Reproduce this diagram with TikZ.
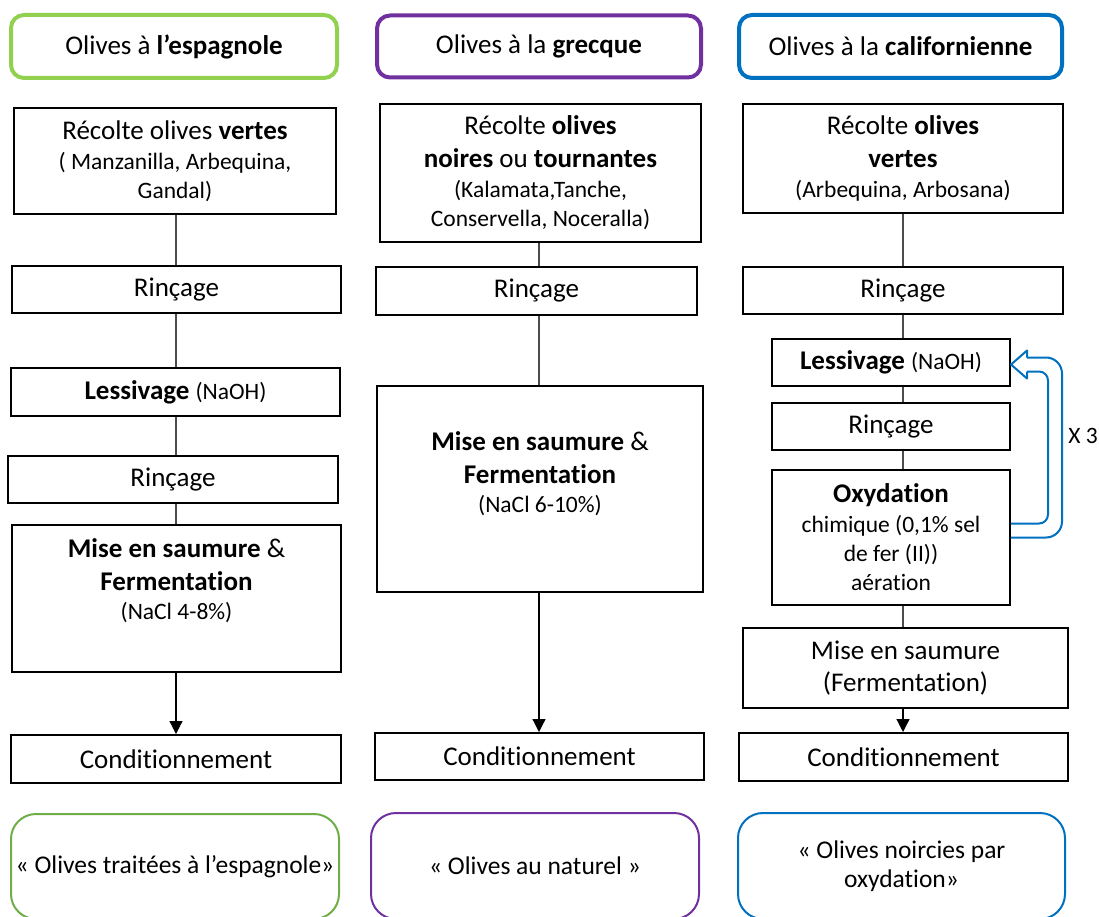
\documentclass[tikz,border=0pt]{standalone}
\usepackage{fontspec}
\setmainfont{Carlito}[Ligatures=NoCommon]
\usepackage{xcolor}
\usetikzlibrary{arrows.meta}
\usetikzlibrary{calc}
\usetikzlibrary{positioning}
\definecolor{espgreen}{HTML}{92D050}
\definecolor{espgreend}{HTML}{70AD47}
\definecolor{grpurple}{HTML}{7030A0}
\definecolor{calblue}{HTML}{0070C0}
\colorlet{linkgray}{black!70}
\newcommand\bigtxt{\fontsize{27}{33}\selectfont}
\newcommand\smtxt{\fontsize{23.5}{29}\selectfont}
\newcommand\fintxt{\fontsize{25.5}{30}\selectfont}
\tikzstyle{stepbox}=[draw,line width=2pt,inner sep=0pt,align=center,font=\bigtxt]
\tikzstyle{headbox}=[draw,line width=4pt,rounded corners=13pt,inner sep=0pt,align=center,font=\bigtxt]
\tikzstyle{endbox}=[draw,line width=2pt,rounded corners=25pt,inner sep=0pt,align=center,font=\fintxt]
\tikzstyle{txt}=[inner sep=0pt,align=center,font=\bigtxt]
\tikzstyle{link}=[line width=1.2pt,linkgray]
\tikzstyle{flow}=[line width=1.2pt,-{Triangle[length=13pt,width=13pt]}]
\tikzstyle{uturn}=[line width=2pt,calblue,line join=round]

\begin{document}
\begin{tikzpicture}[x=1pt,y=-1pt]
  \clip (0,0) rectangle (1099,917);
  \coordinate (ax1) at (176,0);
  \coordinate (ax2) at (539,0);
  \coordinate (ax3) at (903,0);

  % headers
  \node[headbox,espgreen,text=black,minimum width=326pt,minimum height=63pt] (h1) at (174,46.5) {Olives à \textbf{l’espagnole}};
  \node[headbox,grpurple,text=black,minimum width=324pt,minimum height=62pt] (h2) at (539,46.5) {Olives à la \textbf{grecque}};
  \node[headbox,calblue,text=black,minimum width=323pt,minimum height=63pt] (h3) at (900.5,46.5) {Olives à la \textbf{californienne}};

  % olives a l'espagnole
  \node[stepbox,minimum width=322pt,minimum height=106pt] (r1) at (175,161)
    {Récolte olives \textbf{vertes}\\[-3pt]{\smtxt ( Manzanilla, Arbequina,}\\[-4pt]{\smtxt Gandal)}};
  \node[stepbox,minimum width=329pt,minimum height=47pt] (rin1) at (176.5,289.5) {Rinçage};
  \node[stepbox,minimum width=329pt,minimum height=48pt] (les1) at (175.5,392) {\textbf{Lessivage} {\smtxt (NaOH)}};
  \node[stepbox,minimum width=330pt,minimum height=47pt] (rin1b) at (173,479.5) {Rinçage};
  \node[stepbox,minimum width=329pt,minimum height=147pt] (mise1) at (176.5,598.5) {};
  \node[txt,below=14pt of mise1.north] (mise1t)
    {\textbf{Mise en saumure} \&\\\textbf{Fermentation}\\[-4pt]{\smtxt (NaCl 4-8\%)}};
  \node[stepbox,minimum width=330pt,minimum height=48pt] (cond1) at (176,759) {Conditionnement};
  \node[endbox,espgreend,text=black,minimum width=328pt,minimum height=105pt] (fin1) at (175,866.5) {« Olives traitées à l’espagnole»};

  % olives a la grecque
  \node[stepbox,minimum width=321pt,minimum height=138pt] (r2) at (540.5,173)
    {Récolte \textbf{olives}\\\textbf{noires} ou \textbf{tournantes}\\[-3pt]{\smtxt (Kalamata,Tanche,}\\[-4pt]{\smtxt Conservella, Noceralla)}};
  \node[stepbox,minimum width=321pt,minimum height=48pt] (rin2) at (536.5,291) {Rinçage};
  \node[stepbox,minimum width=326pt,minimum height=206pt] (mise2) at (540,489) {};
  \node[txt,below=46pt of mise2.north] (mise2t)
    {\textbf{Mise en saumure} \&\\\textbf{Fermentation}\\[-4pt]{\smtxt (NaCl 6-10\%)}};
  \node[stepbox,minimum width=329pt,minimum height=47pt] (cond2) at (539.5,756.5) {Conditionnement};
  \node[endbox,grpurple,text=black,minimum width=328pt,minimum height=106pt] (fin2) at (535,866) {« Olives au naturel »};

  % olives a la californienne
  \node[stepbox,minimum width=320pt,minimum height=109pt] (r3) at (903,158.5)
    {Récolte \textbf{olives}\\\textbf{vertes}\\[-3pt]{\smtxt (Arbequina, Arbosana)}};
  \node[stepbox,minimum width=320pt,minimum height=47pt] (rin3) at (903,290.5) {Rinçage};
  \node[stepbox,minimum width=238pt,minimum height=47pt] (les3) at (891,362.5) {\textbf{Lessivage} {\smtxt (NaOH)}};
  \node[stepbox,minimum width=238pt,minimum height=47pt] (rin3b) at (891,426.5) {Rinçage};
  \node[stepbox,minimum width=238pt,minimum height=135pt] (oxy) at (891,537.5)
    {\textbf{Oxydation}\\[-3pt]{\smtxt chimique (0,1\% sel}\\[-4pt]{\smtxt de fer (II))}\\[-4pt]{\smtxt aération}};
  \node[stepbox,minimum width=325pt,minimum height=80pt] (mise3) at (905.5,668) {Mise en saumure\\[-1pt](Fermentation)};
  \node[stepbox,minimum width=329pt,minimum height=48pt] (cond3) at (903.5,757) {Conditionnement};
  \node[endbox,calblue,text=black,minimum width=327pt,minimum height=106pt] (fin3) at (901.5,866) {« Olives noircies par\\[-1pt]oxydation»};
  \node[txt,font=\smtxt] (times) at (1083,436) {X 3};

  \foreach \a/\b in {r1/rin1,rin1/les1,les1/rin1b,rin1b/mise1}
    \draw[link] (\a.south -| ax1) -- (\b.north -| ax1);
  \foreach \a/\b in {r2/rin2,rin2/mise2}
    \draw[link] (\a.south -| ax2) -- (\b.north -| ax2);
  \foreach \a/\b in {r3/rin3,rin3/les3,les3/rin3b,rin3b/oxy,oxy/mise3}
    \draw[link] (\a.south -| ax3) -- (\b.north -| ax3);
  \draw[flow] (mise1.south -| ax1) -- (cond1.north -| ax1);
  \draw[flow] (mise2.south -| ax2) -- (cond2.north -| ax2);
  \draw[flow] (mise3.south -| ax3) -- (cond3.north -| ax3);

  % boucle x 3
  \coordinate (tip) at ($(les3.east)+(0,2)$);
  \draw[uturn,rounded corners=16pt] (oxy.east) -| ($(tip)+(51,-7)$) -- ($(tip)+(16,-7)$);
  \draw[uturn,rounded corners=9pt] ($(oxy.east)+(0,-14)$) -| ($(tip)+(37,7)$) -- ($(tip)+(16,7)$);
  \draw[uturn] ($(tip)+(16,-7)$) -- ($(tip)+(16,-14)$) -- (tip) -- ($(tip)+(16,14)$) -- ($(tip)+(16,7)$);
\end{tikzpicture}
\end{document}
